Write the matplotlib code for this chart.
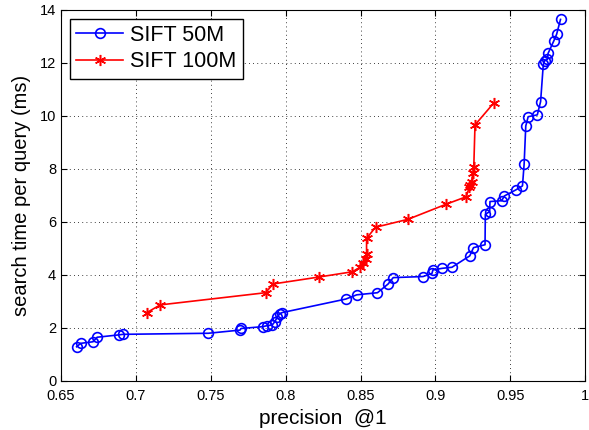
import numpy as np
import matplotlib
matplotlib.use('Agg')
import matplotlib.pyplot as plt

plt.rcParams['font.family'] = ['Liberation Sans', 'DejaVu Sans']

# SIFT 50M
prec_50m = [0.6604, 0.6631, 0.6714, 0.6741, 0.6887, 0.6914, 0.7483, 0.7695, 0.7702,
            0.7848, 0.7877, 0.7910, 0.7928, 0.7943, 0.7959, 0.7976,
            0.8401, 0.8474, 0.8613, 0.8684, 0.8718, 0.8917, 0.8977, 0.8983, 0.9045,
            0.9110, 0.9229, 0.9254, 0.9331, 0.9333, 0.9362, 0.9364, 0.9442, 0.9460,
            0.9537, 0.9581, 0.9592, 0.9603, 0.9619, 0.9680, 0.9702, 0.9720, 0.9729,
            0.9747, 0.9752, 0.9791, 0.9809, 0.9835]
time_50m = [1.29, 1.42, 1.48, 1.65, 1.74, 1.76, 1.80, 1.92, 1.98,
            2.05, 2.09, 2.11, 2.24, 2.40, 2.53, 2.58,
            3.09, 3.25, 3.33, 3.66, 3.90, 3.94, 4.06, 4.19, 4.25,
            4.29, 4.72, 5.03, 5.14, 6.29, 6.39, 6.77, 6.80, 6.98,
            7.21, 7.36, 8.18, 9.62, 9.97, 10.04, 10.54, 11.94, 12.08,
            12.13, 12.36, 12.84, 13.08, 13.64]

# SIFT 100M
prec_100m = [0.7073, 0.7162, 0.7866, 0.7916, 0.8220, 0.8445, 0.8496, 0.8518, 0.8533,
             0.8540, 0.8540, 0.8600, 0.8817, 0.9072, 0.9205, 0.9227, 0.9233, 0.9242,
             0.9249, 0.9256, 0.9264, 0.9388]
time_100m = [2.58, 2.87, 3.33, 3.66, 3.92, 4.12, 4.29, 4.46, 4.59,
             4.79, 5.38, 5.80, 6.10, 6.67, 6.95, 7.33, 7.40, 7.52,
             7.83, 8.09, 9.66, 10.48]

x_ticks = [0.65, 0.7, 0.75, 0.8, 0.85, 0.9, 0.95, 1.0]
x_ticklabels = ['0.65', '0.7', '0.75', '0.8', '0.85', '0.9', '0.95', '1']

fig = plt.figure(figsize=(5.89, 4.30), dpi=100)
ax = fig.add_axes([0.1036, 0.114, 0.8900, 0.863])

ax.plot(prec_50m, time_50m, color='blue', marker='o', markersize=7,
        markerfacecolor='none', markeredgewidth=1.2, linewidth=1.2, label='SIFT 50M')
ax.plot(prec_100m, time_100m, color='red', marker=(6, 2, 0), markersize=8,
        markeredgewidth=1.1, linewidth=1.2, label='SIFT 100M')

ax.set_xlim(0.65, 1.0)
ax.set_ylim(0, 14)
ax.set_xticks(x_ticks)
ax.set_xticklabels(x_ticklabels)
ax.set_yticks(range(0, 15, 2))
ax.tick_params(direction='in', top=True, right=True, labelsize=10.5, length=4)
ax.tick_params(axis='x', pad=6)
ax.grid(True, color='black', linestyle=(0, (1, 4)), linewidth=0.6)

ax.set_xlabel('precision  @1', fontsize=15, labelpad=4)
ax.set_ylabel('search time per query (ms)', fontsize=14.5, labelpad=6)

leg = ax.legend(loc='upper left', fontsize=15.5, fancybox=False, edgecolor='black',
                framealpha=1, handlelength=2.2, borderaxespad=0.4,
                borderpad=0.3, labelspacing=0.25, handletextpad=0.3)
leg.get_frame().set_linewidth(1.0)

fig.savefig('out.png', dpi=100)
